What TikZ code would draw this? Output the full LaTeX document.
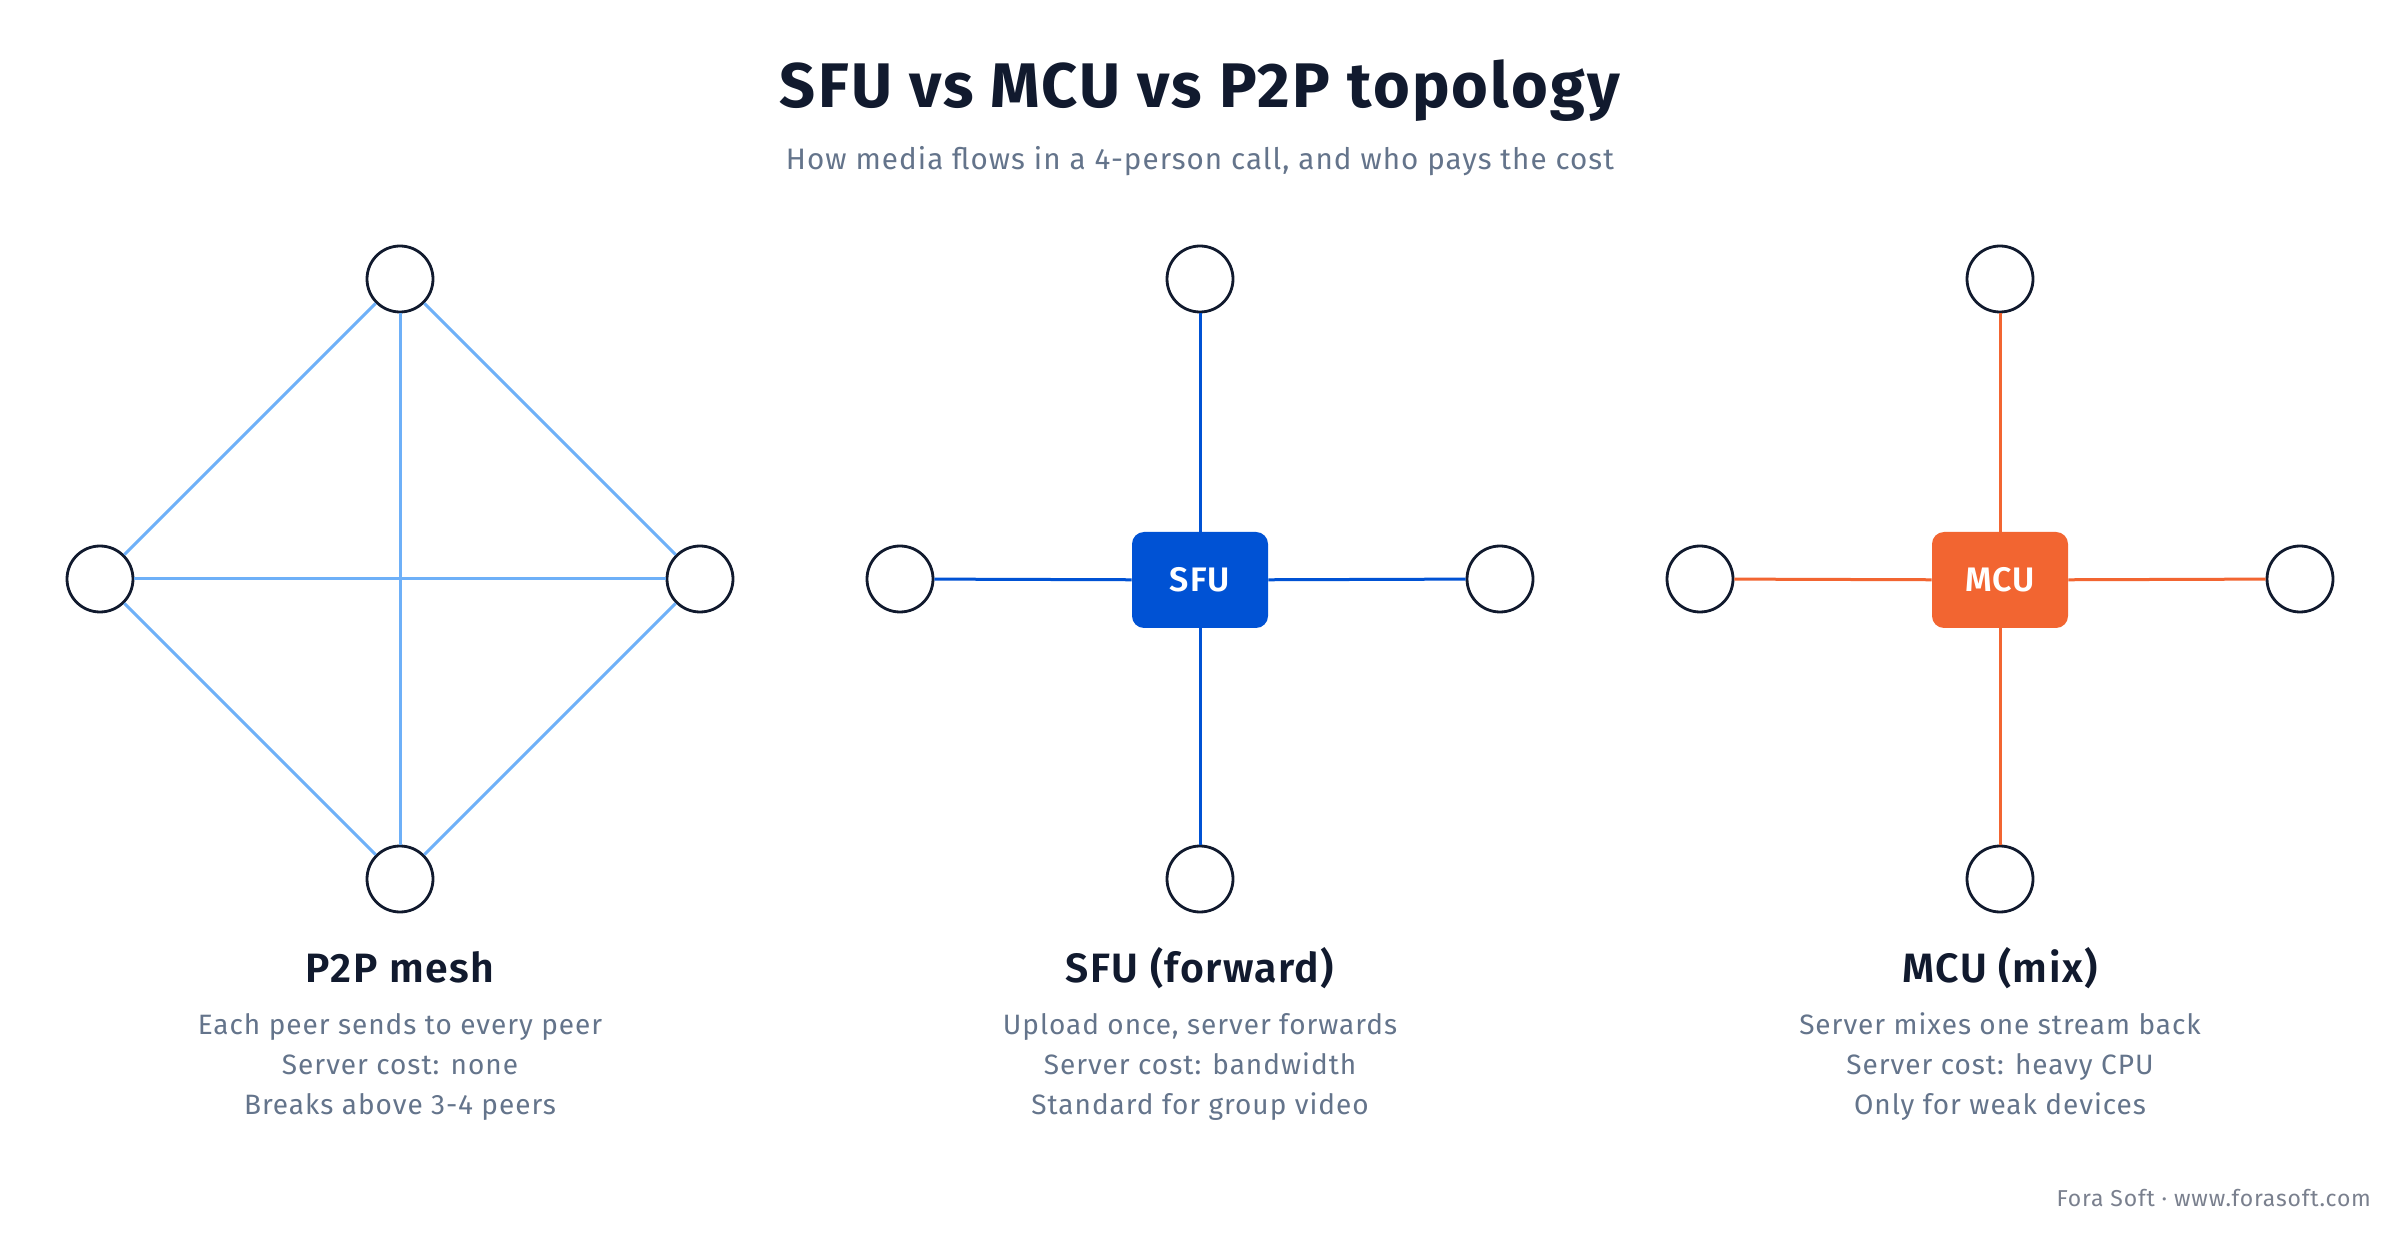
\documentclass[tikz,border=0pt]{standalone}
\usepackage{fontspec}
\setmainfont{Fira Sans}[LetterSpace=3.5]
\newfontfamily\semib{Fira Sans SemiBold}[LetterSpace=3.5]
\definecolor{titlec}{HTML}{111A2E}
\definecolor{subc}{HTML}{64748B}
\definecolor{footc}{HTML}{7A808E}
\definecolor{meshc}{HTML}{6EB0F8}
\definecolor{sfuc}{HTML}{0052D4}
\definecolor{mcuc}{HTML}{F26531}
\definecolor{peerc}{HTML}{111A2E}
\begin{document}
\begin{tikzpicture}[x=0.5pt,y=-0.5pt,
  peer/.style={circle,draw=peerc,line width=1.4pt,fill=white,minimum size=33pt,inner sep=0pt},
  hub/.style={rounded corners=6pt,minimum width=68pt,minimum height=48pt,inner sep=0pt,text=white,font=\fontsize{17}{20}\semib},
  meshline/.style={meshc,line width=1.5pt},
  sfuline/.style={sfuc,line width=1.5pt},
  mculine/.style={mcuc,line width=1.5pt},
  heading/.style={anchor=base,text=titlec,font=\fontsize{20.5}{24}\semib},
  desc/.style={anchor=base,text=subc,font=\fontsize{14}{17}\selectfont}]
\useasboundingbox[fill=white] (0,0) rectangle (2400,1240);
\node[anchor=base,text=titlec,font=\fontsize{31.5}{37}\selectfont\bfseries] (title) at (1200,108) {SFU vs MCU vs P2P topology};
\node[anchor=base,text=subc,font=\fontsize{14.8}{18}\selectfont] (subtitle) at (1200,170) {How media flows in a 4-person call, and who pays the cost};
% P2P
\node[peer] (pt) at (400,279) {};
\node[peer] (pl) at (100,579) {};
\node[peer] (pr) at (700,579) {};
\node[peer] (pb) at (400,879) {};
\draw[meshline] (pt) -- (pl);
\draw[meshline] (pt) -- (pr);
\draw[meshline] (pt) -- (pb);
\draw[meshline] (pl) -- (pr);
\draw[meshline] (pl) -- (pb);
\draw[meshline] (pr) -- (pb);
% SFU
\node[hub,fill=sfuc] (sfu) at (1200,580) {SFU};
\node[peer] (st) at (1200,279) {};
\node[peer] (sl) at (900,579) {};
\node[peer] (sr) at (1500,579) {};
\node[peer] (sb) at (1200,879) {};
\draw[sfuline] (sfu) -- (st);
\draw[sfuline] (sfu) -- (sl);
\draw[sfuline] (sfu) -- (sr);
\draw[sfuline] (sfu) -- (sb);
% MCU
\node[hub,fill=mcuc] (mcu) at (2000,580) {MCU};
\node[peer] (mt) at (2000,279) {};
\node[peer] (ml) at (1700,579) {};
\node[peer] (mr) at (2300,579) {};
\node[peer] (mb) at (2000,879) {};
\draw[mculine] (mcu) -- (mt);
\draw[mculine] (mcu) -- (ml);
\draw[mculine] (mcu) -- (mr);
\draw[mculine] (mcu) -- (mb);
% labels
\node[heading] (h1) at (400,982) {P2P mesh};
\node[desc] (d11) at (400,1034) {Each peer sends to every peer};
\node[desc] (d12) at (400,1074) {Server cost: none};
\node[desc] (d13) at (400,1114) {Breaks above 3-4 peers};
\node[heading] (h2) at (1200,982) {SFU (forward)};
\node[desc] (d21) at (1200,1034) {Upload once, server forwards};
\node[desc] (d22) at (1200,1074) {Server cost: bandwidth};
\node[desc] (d23) at (1200,1114) {Standard for group video};
\node[heading] (h3) at (2000,982) {MCU (mix)};
\node[desc] (d31) at (2000,1034) {Server mixes one stream back};
\node[desc] (d32) at (2000,1074) {Server cost: heavy CPU};
\node[desc] (d33) at (2000,1114) {Only for weak devices};
\node[anchor=base east,text=footc,font=\fontsize{11.5}{14}\selectfont] (foot) at (2378,1206) {Fora Soft · www.forasoft.com};
\end{tikzpicture}
\end{document}
